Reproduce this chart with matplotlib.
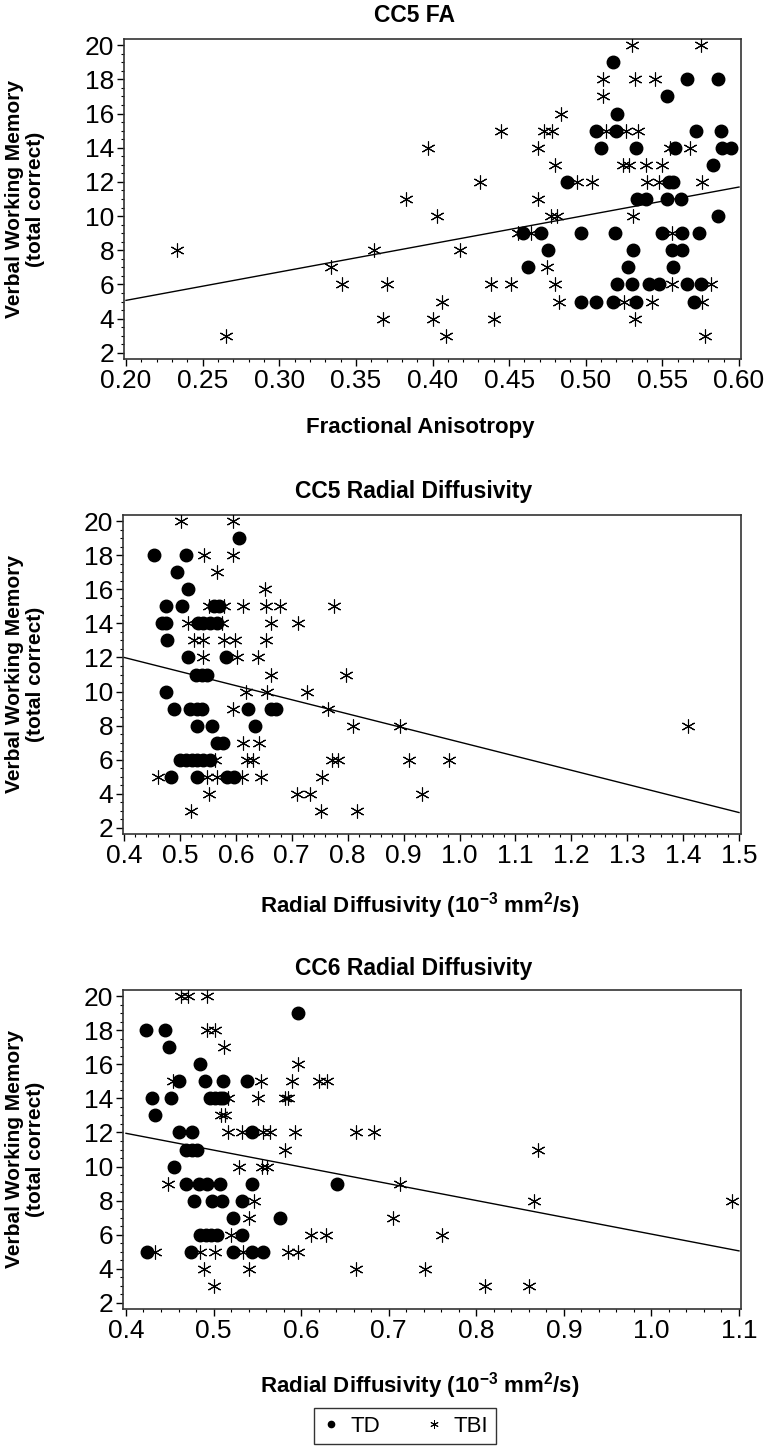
import matplotlib
matplotlib.use('Agg')
import matplotlib.pyplot as plt
from matplotlib.lines import Line2D
from matplotlib.ticker import MultipleLocator, FormatStrFormatter

plt.rcParams['font.family'] = ['Liberation Sans', 'DejaVu Sans']

# ---------------- Panel 1: CC5 FA ----------------
fa_td_x = [0.518, 0.566, 0.586, 0.553, 0.5205,
           0.5064, 0.520, 0.572, 0.588,
           0.510, 0.5325, 0.5585, 0.589, 0.595,
           0.583,
           0.4875, 0.554, 0.557,
           0.5335, 0.539, 0.553, 0.562,
           0.586,
           0.459, 0.4705, 0.4966, 0.519, 0.550, 0.563, 0.574,
           0.4756, 0.531, 0.556, 0.563,
           0.462, 0.5275, 0.557,
           0.5205, 0.5303, 0.541, 0.548, 0.566, 0.575,
           0.4966, 0.5064, 0.518, 0.5325, 0.5704]
fa_td_y = [19, 18, 18, 17, 16,
           15, 15, 15, 15,
           14, 14, 14, 14, 14,
           13,
           12, 12, 12,
           11, 11, 11, 11,
           10,
           9, 9, 9, 9, 9, 9, 9,
           8, 8, 8, 8,
           7, 7, 7,
           6, 6, 6, 6, 6, 6,
           5, 5, 5, 5, 5]
fa_tbi_x = [0.530, 0.575,
            0.511, 0.532, 0.545,
            0.511,
            0.484,
            0.4445, 0.4727, 0.478, 0.513, 0.526, 0.534,
            0.397, 0.469, 0.555, 0.568,
            0.480, 0.524, 0.528, 0.539, 0.550,
            0.431, 0.494, 0.504, 0.540, 0.548, 0.576,
            0.383, 0.469,
            0.403, 0.477, 0.481, 0.531,
            0.456, 0.464, 0.556,
            0.233, 0.362, 0.418,
            0.334, 0.475,
            0.341, 0.370, 0.438, 0.451, 0.480, 0.5565, 0.582,
            0.4065, 0.4825, 0.525, 0.5433, 0.576,
            0.368, 0.400, 0.440, 0.532,
            0.265, 0.409, 0.578]
fa_tbi_y = [20, 20,
            18, 18, 18,
            17,
            16,
            15, 15, 15, 15, 15, 15,
            14, 14, 14, 14,
            13, 13, 13, 13, 13,
            12, 12, 12, 12, 12, 12,
            11, 11,
            10, 10, 10, 10,
            9, 9, 9,
            8, 8, 8,
            7, 7,
            6, 6, 6, 6, 6, 6, 6,
            5, 5, 5, 5, 5,
            4, 4, 4, 4,
            3, 3, 3]
fa_fit_x = [0.20, 0.60]
fa_fit_y = [5.07, 11.70]

# ---------------- Panel 2: CC5 Radial Diffusivity ----------------
rd5_td_x = [0.606,
            0.454, 0.510,
            0.495,
            0.515,
            0.475, 0.504, 0.560, 0.569,
            0.467, 0.475, 0.533, 0.542, 0.554, 0.566,
            0.476,
            0.515, 0.582,
            0.528, 0.539, 0.548,
            0.475,
            0.489, 0.517, 0.530, 0.539, 0.621, 0.662, 0.672,
            0.530, 0.557, 0.634,
            0.566, 0.577,
            0.500, 0.511, 0.521, 0.531, 0.542, 0.553,
            0.484, 0.530, 0.584, 0.596]
rd5_td_y = [19,
            18, 18,
            17,
            16,
            15, 15, 15, 15,
            14, 14, 14, 14, 14, 14,
            13,
            12, 12,
            11, 11, 11,
            10,
            9, 9, 9, 9, 9, 9, 9,
            8, 8, 8,
            7, 7,
            6, 6, 6, 6, 6, 6,
            5, 5, 5, 5]
rd5_tbi_x = [0.502, 0.5955,
             0.5436, 0.5955,
             0.566,
             0.652,
             0.551, 0.578, 0.613, 0.653, 0.679, 0.776,
             0.515, 0.575, 0.663, 0.711,
             0.525, 0.541, 0.578, 0.599, 0.653,
             0.542, 0.602, 0.640,
             0.663, 0.797,
             0.618, 0.655, 0.727,
             0.594, 0.764,
             0.809, 0.894, 1.409,
             0.612, 0.642,
             0.563, 0.620, 0.631, 0.772, 0.782, 0.910, 0.982,
             0.461, 0.548, 0.566, 0.611, 0.645, 0.754,
             0.551, 0.709, 0.733, 0.933,
             0.520, 0.752, 0.817]
rd5_tbi_y = [20, 20,
             18, 18,
             17,
             16,
             15, 15, 15, 15, 15, 15,
             14, 14, 14, 14,
             13, 13, 13, 13, 13,
             12, 12, 12,
             11, 11,
             10, 10, 10,
             9, 9,
             8, 8, 8,
             7, 7,
             6, 6, 6, 6, 6, 6, 6,
             5, 5, 5, 5, 5, 5,
             4, 4, 4, 4,
             3, 3, 3]
rd5_fit_x = [0.40, 1.50]
rd5_fit_y = [12.0, 2.9]

# ---------------- Panel 3: CC6 Radial Diffusivity ----------------
rd6_td_x = [0.596,
            0.4225, 0.445,
            0.449,
            0.484,
            0.460, 0.490, 0.511, 0.538,
            0.430, 0.451, 0.496, 0.502, 0.507, 0.511,
            0.433,
            0.4605, 0.475, 0.5435,
            0.469, 0.475, 0.481,
            0.455,
            0.468, 0.483, 0.492, 0.507, 0.544, 0.6405,
            0.478, 0.4985, 0.510, 0.533,
            0.522, 0.576,
            0.4845, 0.491, 0.497, 0.5035, 0.532,
            0.4236, 0.474, 0.5225, 0.5435, 0.557]
rd6_td_y = [19,
            18, 18,
            17,
            16,
            15, 15, 15, 15,
            14, 14, 14, 14, 14, 14,
            13,
            12, 12, 12,
            11, 11, 11,
            10,
            9, 9, 9, 9, 9, 9,
            8, 8, 8, 8,
            7, 7,
            6, 6, 6, 6, 6,
            5, 5, 5, 5, 5]
rd6_tbi_x = [0.463, 0.471, 0.492,
             0.493, 0.502,
             0.512,
             0.596,
             0.454, 0.554, 0.590, 0.620, 0.629,
             0.516, 0.551, 0.5815, 0.585,
             0.509, 0.513,
             0.517, 0.532, 0.557, 0.564, 0.593, 0.6626, 0.683,
             0.582, 0.871,
             0.529, 0.555, 0.561,
             0.448, 0.713,
             0.546, 0.866, 1.0915,
             0.541, 0.705,
             0.5195, 0.611, 0.628, 0.761,
             0.433, 0.4845, 0.502, 0.534, 0.585, 0.597,
             0.489, 0.540, 0.663, 0.741,
             0.500, 0.810, 0.860]
rd6_tbi_y = [20, 20, 20,
             18, 18,
             17,
             16,
             15, 15, 15, 15, 15,
             14, 14, 14, 14,
             13, 13,
             12, 12, 12, 12, 12, 12, 12,
             11, 11,
             10, 10, 10,
             9, 9,
             8, 8, 8,
             7, 7,
             6, 6, 6, 6,
             5, 5, 5, 5, 5, 5,
             4, 4, 4, 4,
             3, 3, 3]
rd6_fit_x = [0.40, 1.10]
rd6_fit_y = [11.95, 5.05]

titles = ["CC5 FA", "CC5 Radial Diffusivity", "CC6 Radial Diffusivity"]
xlabels = ["Fractional Anisotropy",
           r"Radial Diffusivity (10$^{\mathbf{-3}}$ mm$^{\mathbf{2}}$/s)",
           r"Radial Diffusivity (10$^{\mathbf{-3}}$ mm$^{\mathbf{2}}$/s)"]
ylabel = "Verbal Working Memory\n(total correct)"
y_ticks = [2, 4, 6, 8, 10, 12, 14, 16, 18, 20]

W, H = 764, 1451
fig = plt.figure(figsize=(W / 100, H / 100), dpi=100)
plt.rcParams['mathtext.fontset'] = 'custom'
plt.rcParams['mathtext.rm'] = 'Liberation Sans'
plt.rcParams['mathtext.bf'] = 'Liberation Sans:bold'


def add_axes_px(left, top, right, bottom):
    return fig.add_axes([left / W, 1 - bottom / H, (right - left) / W, (bottom - top) / H])


panels = [
    dict(box=(124, 39, 741, 359), xlim=(0.1987, 0.6013), xmaj=0.05, xmin=0.01, fmt='%.2f',
         td=(fa_td_x, fa_td_y), tbi=(fa_tbi_x, fa_tbi_y), fit=(fa_fit_x, fa_fit_y),
         title_y=15, xlabel_y=427),
    dict(box=(123, 515, 741, 834), xlim=(0.398, 1.5036), xmaj=0.1, xmin=0.02, fmt='%.1f',
         td=(rd5_td_x, rd5_td_y), tbi=(rd5_tbi_x, rd5_tbi_y), fit=(rd5_fit_x, rd5_fit_y),
         title_y=491, xlabel_y=906),
    dict(box=(123, 990, 741, 1309), xlim=(0.3966, 1.1023), xmaj=0.1, xmin=0.02, fmt='%.1f',
         td=(rd6_td_x, rd6_td_y), tbi=(rd6_tbi_x, rd6_tbi_y), fit=(rd6_fit_x, rd6_fit_y),
         title_y=969, xlabel_y=1386),
]

ast = (6, 2, 0)
for i, p in enumerate(panels):
    ax = add_axes_px(*p['box'])
    ax.plot(p['fit'][0], p['fit'][1], color='black', lw=1.0, zorder=2)
    ax.plot(p['td'][0], p['td'][1], linestyle='none', marker='o', ms=9,
            mfc='black', mec='black', zorder=3)
    ax.plot(p['tbi'][0], p['tbi'][1], linestyle='none', marker=ast, ms=10,
            mec='black', mew=0.8, zorder=3)
    ax.set_xlim(*p['xlim'])
    ax.set_ylim(1.64, 20.36)
    ax.set_yticks(y_ticks)
    ax.xaxis.set_major_locator(MultipleLocator(p['xmaj']))
    ax.xaxis.set_minor_locator(MultipleLocator(p['xmin']))
    ax.yaxis.set_minor_locator(MultipleLocator(0.5))
    ax.xaxis.set_major_formatter(FormatStrFormatter(p['fmt']))
    ax.tick_params(which='major', length=5, width=1.0, labelsize=19, colors='black', pad=2)
    ax.tick_params(which='minor', length=2.5, width=0.8)
    for s in ax.spines.values():
        s.set_linewidth(1.2)
        s.set_color('#333333')
    fig.text(414 / W, 1 - p['title_y'] / H, titles[i], ha='center', va='center',
             fontsize=16.5, fontweight='bold')
    fig.text(420 / W, 1 - p['xlabel_y'] / H, xlabels[i], ha='center', va='center',
             fontsize=16, fontweight='bold')
    cy = (p['box'][1] + p['box'][3]) / 2
    fig.text(25 / W, 1 - cy / H, ylabel, ha='center', va='center', rotation=90,
             fontsize=15, fontweight='bold', linespacing=1.1)

handles = [Line2D([], [], linestyle='none', marker='o', ms=4.5, mfc='black', mec='black'),
           Line2D([], [], linestyle='none', marker=ast, ms=6, mec='black', mew=0.7)]
leg = fig.legend(handles, ['TD', 'TBI'], loc='center', bbox_to_anchor=(405 / W, 1 - 1426 / H),
                 ncol=2, frameon=True, fontsize=16, handlelength=0.8, handletextpad=0.5,
                 columnspacing=2.0, borderpad=0.35, fancybox=False)
leg.get_frame().set_edgecolor('black')
leg.get_frame().set_linewidth(1.0)

fig.savefig('out.png', dpi=100)
